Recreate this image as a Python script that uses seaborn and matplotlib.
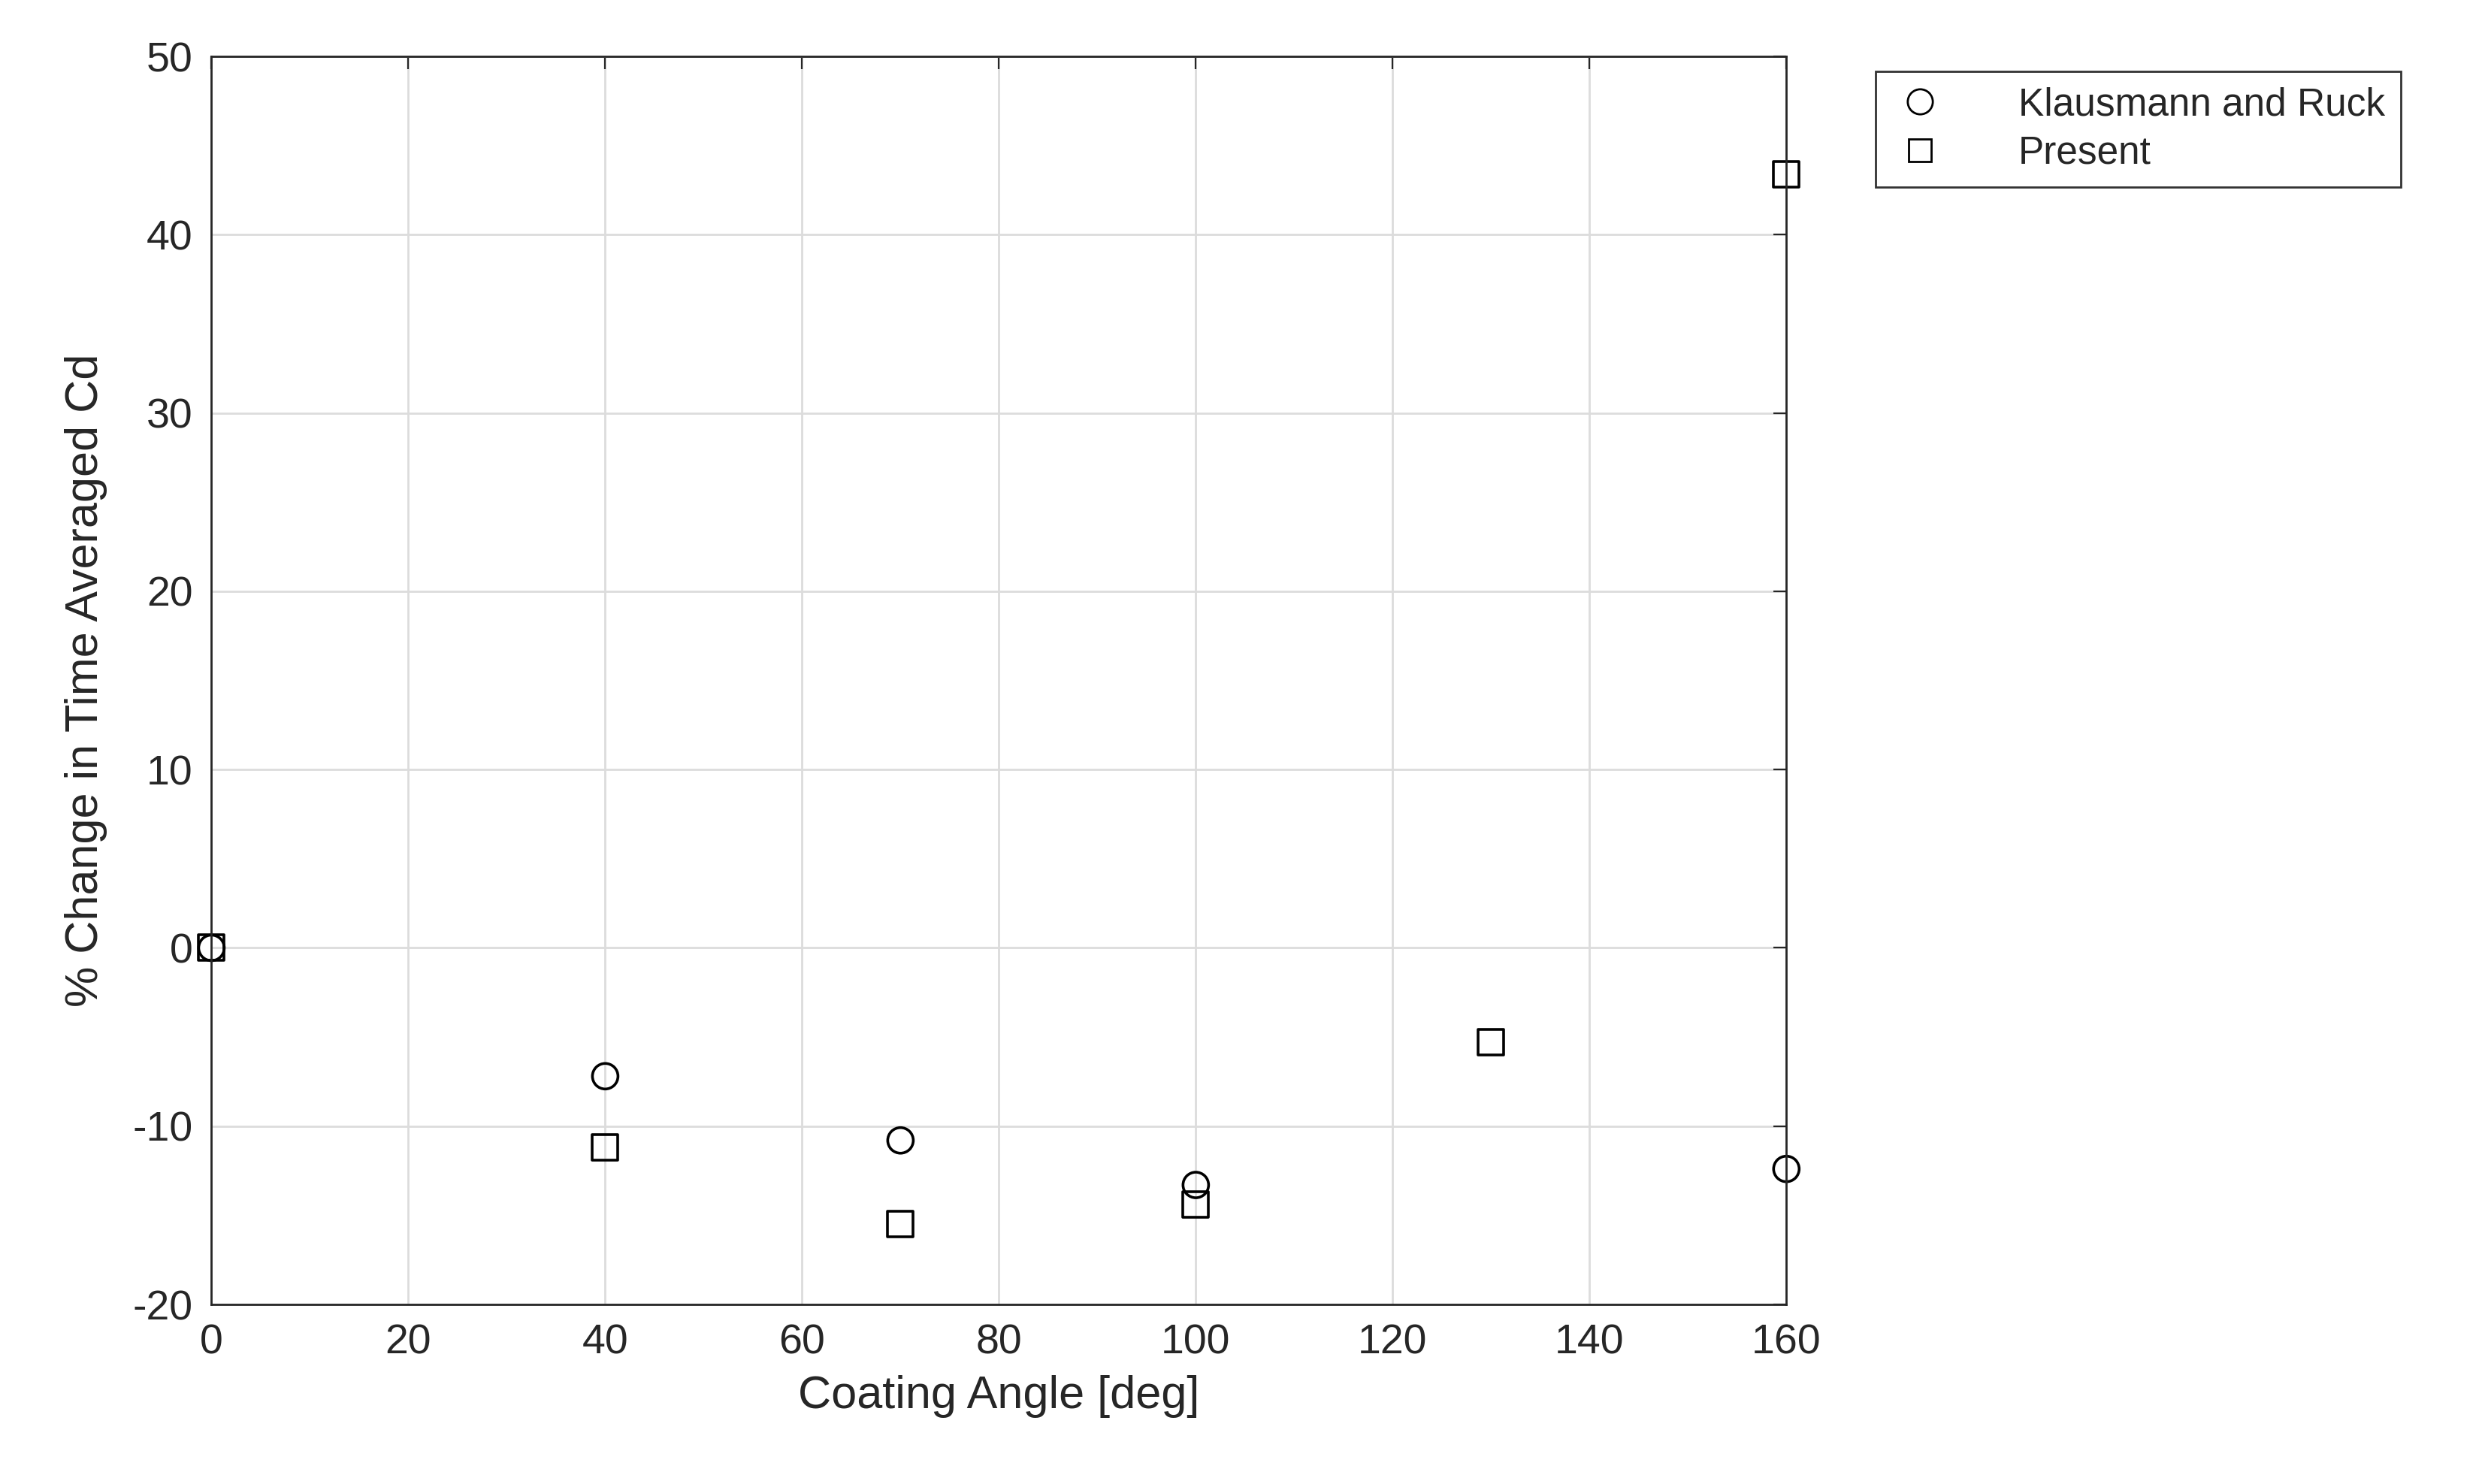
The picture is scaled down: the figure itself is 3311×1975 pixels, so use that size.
import matplotlib
matplotlib.use('Agg')
import matplotlib.pyplot as plt
import seaborn as sns
import pandas as pd
from matplotlib.lines import Line2D

# data
klaus_angle = [0, 40, 70, 100, 160]
klaus_cd = [0.0, -7.2, -10.8, -13.3, -12.4]
present_angle = [0, 40, 70, 100, 130, 160]
present_cd = [0.0, -11.2, -15.5, -14.4, -5.3, 43.4]

df = pd.concat([
    pd.DataFrame({"angle": klaus_angle, "cd": klaus_cd, "src": "Klausmann and Ruck"}),
    pd.DataFrame({"angle": present_angle, "cd": present_cd, "src": "Present"}),
])

sns.set_style("white")
plt.rcParams['font.family'] = ['Liberation Sans', 'DejaVu Sans']
plt.rcParams['axes.unicode_minus'] = False

fig = plt.figure(figsize=(16.555, 9.875), dpi=200)
ax = fig.add_axes([0.085, 0.121, 0.633, 0.841])

sns.scatterplot(data=df, x="angle", y="cd", style="src",
                markers={"Klausmann and Ruck": "o", "Present": "s"},
                linewidth=1.3, s=150, ax=ax, legend=False, clip_on=False)
# hollow markers
for coll in ax.collections:
    coll.set_facecolor("none")
    coll.set_edgecolor("black")

ax.set_xlim(0, 160)
ax.set_ylim(-20, 50)
ax.set_xticks(range(0, 161, 20))
ax.set_yticks(range(-20, 51, 10))
ax.grid(True, color="#dcdcdc", linewidth=1.0)
ax.tick_params(direction="in", length=6, labelsize=20, colors="#262626",
               top=True, right=True, pad=9)
for sp in ax.spines.values():
    sp.set_color("#262626")
    sp.set_linewidth(1.0)
ax.set_xlabel("Coating Angle [deg]", fontsize=22, color="#262626", labelpad=6)
ax.set_ylabel("% Change in Time Averaged Cd", fontsize=22, color="#262626", labelpad=12)

handles = [Line2D([], [], marker="o", ls="none", mfc="none", mec="black", ms=12),
           Line2D([], [], marker="s", ls="none", mfc="none", mec="black", ms=11)]
leg = fig.legend(handles, ["Klausmann and Ruck", "Present"], loc="upper left",
                 bbox_to_anchor=(0.746, 0.965), fontsize=18.5, frameon=True, fancybox=False,
                 edgecolor="black", handletextpad=1.8, borderpad=0.4, labelspacing=0.3,
                 handlelength=1.5)
leg.get_frame().set_linewidth(1.0)

fig.savefig("out.png", dpi=200)
